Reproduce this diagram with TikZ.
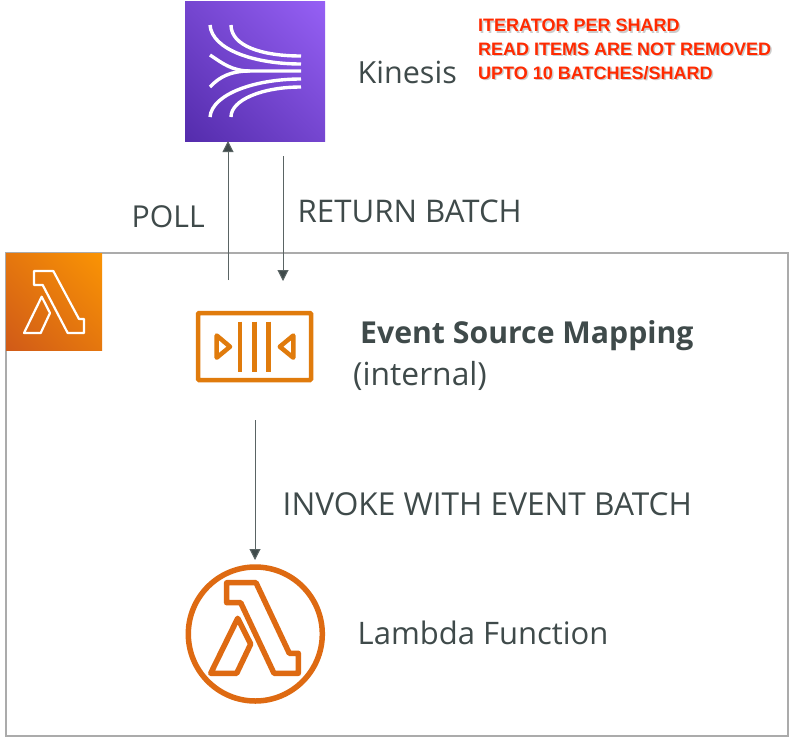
\documentclass[tikz,border=0pt]{standalone}
\usepackage{fontspec}
\setmainfont{Open Sans}
\newfontfamily\redfont{Liberation Sans}
\usetikzlibrary{arrows.meta,shadings}
\definecolor{inkgray}{HTML}{3F4A4A}
\definecolor{linkgray}{HTML}{5A6464}
\definecolor{framegray}{HTML}{ABABAB}
\definecolor{awsorange}{HTML}{E07B0C}
\definecolor{lambdaorange}{HTML}{DE6A12}
\definecolor{alertred}{HTML}{FF2A00}
\definecolor{purpleA}{HTML}{542CAC}
\definecolor{purpleB}{HTML}{7546D0}
\definecolor{purpleC}{HTML}{9660F5}
\definecolor{orangeA}{HTML}{D05A18}
\definecolor{orangeB}{HTML}{E5770E}
\definecolor{orangeC}{HTML}{FA9404}
\newcommand{\labelsize}[1]{\fontsize{#1}{34}\selectfont}
\tikzset{
  x=1pt,y=-1pt,
  label text/.style={anchor=base west,inner sep=0pt,text=inkgray,font=\labelsize{31}},
  alert text/.style={anchor=base west,inner sep=0pt,text=alertred,font=\redfont\bfseries\fontsize{18}{20}\selectfont},
  alert shadow/.style={anchor=base west,inner sep=0pt,text=black,opacity=0.2,font=\redfont\bfseries\fontsize{18}{20}\selectfont},
  link/.style={draw=linkgray,line width=1pt,-{Triangle[length=11pt,width=11pt,fill=inkgray]}},
  white glyph/.style={draw=white,line width=2.2pt,line join=round},
  stream/.style={draw=white,line width=3.4pt},
  orange icon/.style={draw=awsorange,line width=4.5pt,line join=round},
  circle glyph/.style={draw=lambdaorange,line width=5.5pt,line join=round},
}
\begin{document}
\begin{tikzpicture}
\useasboundingbox (0,0) rectangle (792,742);
\fill[white] (0,0) rectangle (792,742);
% frame
\draw[framegray,line width=1.6pt] (6,253) rectangle (788,736);
% Kinesis tile
\shade[lower left=purpleA,upper right=purpleC,lower right=purpleB,upper left=purpleB]
  (185,1) rectangle (325,141);
\node[minimum width=140pt,minimum height=140pt,inner sep=0pt] (kinesis) at (255,71) {};
\draw[stream] (231,25) .. controls (231,46) and (262,56) .. (301,56);
\draw[stream] (210,25) .. controls (212,50) and (255,64) .. (301,64);
\draw[stream] (210,55) .. controls (222,63) and (232,71) .. (250,71) -- (301,71);
\draw[stream] (210,87) .. controls (220,76) and (232,71) .. (250,71);
\draw[stream] (210,117) .. controls (212,94) and (255,79) .. (301,79);
\draw[stream] (231,117) .. controls (231,100) and (262,87) .. (301,87);
% Lambda tile
\shade[lower left=orangeA,upper right=orangeC,lower right=orangeB,upper left=orangeB]
  (6,253) rectangle (102,350);
\draw[white glyph] (34,271) -- (53.3,271) -- (79,319) -- (84,319) -- (84,333) -- (67.7,333) -- (42.7,285) -- (34,285) -- cycle;
\draw[white glyph] (41.7,296.7) -- (50,313) -- (40.7,333) -- (24,333) -- cycle;
% Event source mapping icon
\node[draw=awsorange,line width=4.5pt,rounded corners=1pt,minimum width=113pt,minimum height=67pt,inner sep=0pt] (esm) at (254.5,346.5) {};
\draw[orange icon] (240,321.7) -- (240,371.7);
\draw[orange icon] (254.3,321.7) -- (254.3,371.7);
\draw[orange icon] (268.3,321.7) -- (268.3,371.7);
\draw[orange icon] (216.7,335.5) -- (230,346.7) -- (216.7,357.7) -- cycle;
\draw[orange icon] (293.3,335.5) -- (279.8,346.7) -- (293.3,357.7) -- cycle;
% Lambda function icon
\node[circle,draw=lambdaorange,line width=5.5pt,minimum size=134pt,inner sep=0pt] (lambda) at (255.3,634) {};
\draw[circle glyph] (226.7,582.7) -- (256,582.7) -- (289.3,653.3) -- (298.3,653.3) -- (298.3,673.3) -- (274,673.3) -- (240.7,602.7) -- (226.7,602.7) -- cycle;
\draw[circle glyph] (237.7,618.3) -- (250.7,644) -- (236.7,673.3) -- (210.7,673.3) -- cycle;
% connectors
\coordinate (pollstart) at (228,280);
\coordinate (pollend) at (228,141);
\coordinate (returnstart) at (283,156);
\coordinate (returnend) at (283,281);
\coordinate (invokestart) at (255,420);
\coordinate (invokeend) at (255,560);
\draw[link] (pollstart) -- (pollend);
\draw[link] (returnstart) -- (returnend);
\draw[link] (invokestart) -- (invokeend);
% labels
\node[label text,font=\labelsize{30.5}] (kinesislabel) at (357.5,83) {Kinesis};
\node[label text,font=\labelsize{30.2}] (polllabel) at (131.5,227) {POLL};
\node[label text,font=\labelsize{31.2}] (returnlabel) at (297.5,222) {RETURN BATCH};
\node[label text,font=\bfseries\labelsize{30.2}] (esmlabel) at (360,343) {Event Source Mapping};
\node[label text,font=\labelsize{31.8}] (internallabel) at (353,385) {(internal)};
\node[label text,font=\labelsize{31.6}] (invokelabel) at (282.5,515) {INVOKE WITH EVENT BATCH};
\node[label text] (lambdalabel) at (357.5,644) {Lambda Function};
% red notes
\node[alert shadow] at (479.5,33) {ITERATOR PER SHARD};
\node[alert shadow] at (479.5,56.5) {READ ITEMS ARE NOT REMOVED};
\node[alert shadow] at (479.5,80.5) {UPTO 10 BATCHES/SHARD};
\node[alert text] (note1) at (478,31.5) {ITERATOR PER SHARD};
\node[alert text] (note2) at (478,55) {READ ITEMS ARE NOT REMOVED};
\node[alert text] (note3) at (478,79) {UPTO 10 BATCHES/SHARD};
\end{tikzpicture}
\end{document}
